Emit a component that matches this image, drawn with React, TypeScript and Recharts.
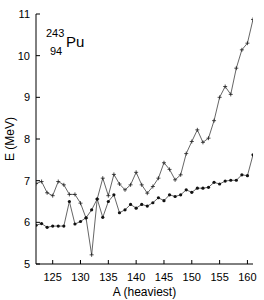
import React from "react";
import { LineChart, Line, XAxis, YAxis } from "recharts";

// mass number of the heaviest fragment
const massNumbers = [
  122, 123, 124, 125, 126, 127, 128, 129, 130, 131,
  132, 133, 134, 135, 136, 137, 138, 139, 140, 141,
  142, 143, 144, 145, 146, 147, 148, 149, 150, 151,
  152, 153, 154, 155, 156, 157, 158, 159, 160, 161,
];

// upper curve (+ markers)
const upperE = [
  6.93, 6.98, 6.71, 6.64, 6.98, 6.9, 6.67, 6.67, 6.46, 6.1,
  5.22, 6.56, 7.06, 6.64, 7.15, 6.92, 6.78, 6.9, 7.2, 6.9,
  6.7, 6.86, 7.06, 7.43, 7.27, 7.02, 7.14, 7.65, 7.94, 8.22,
  7.92, 8.02, 8.44, 9.0, 9.26, 9.07, 9.7, 10.14, 10.3, 10.87,
];

// lower curve (filled dots)
const lowerE = [
  5.93, 5.97, 5.88, 5.91, 5.91, 5.91, 6.5, 5.96, 6.02, 6.11,
  6.3, 6.56, 6.12, 6.5, 6.66, 6.23, 6.3, 6.43, 6.34, 6.43,
  6.39, 6.47, 6.59, 6.52, 6.66, 6.62, 6.66, 6.78, 6.72, 6.82,
  6.82, 6.84, 6.96, 6.92, 6.99, 7.01, 7.01, 7.14, 7.12, 7.62,
];

const xTicks = [125, 130, 135, 140, 145, 150, 155, 160];
const yTicks = [5, 6, 7, 8, 9, 10, 11];

const data = massNumbers.map((a, i) => ({ A: a, upper: upperE[i], lower: lowerE[i] }));

const font = "'Liberation Sans', Arial, sans-serif";

const PlusDot = (props: any) => {
  const { cx, cy, index } = props;
  if (cx == null || cy == null) return <g key={index} />;
  return (
    <path
      key={index}
      d={`M${cx - 2},${cy}h4M${cx},${cy - 2}v4`}
      stroke="#222"
      strokeWidth={0.8}
      fill="none"
    />
  );
};

const RoundDot = (props: any) => {
  const { cx, cy, index } = props;
  if (cx == null || cy == null) return <g key={index} />;
  return <circle key={index} cx={cx} cy={cy} r={1.6} fill="#111" stroke="none" />;
};

export default function App() {
  return (
    <div style={{ position: "absolute", left: 0, top: 0, width: 264, height: 300, fontFamily: font, background: "#fff" }}>
      <LineChart
        width={264}
        height={300}
        data={data}
        margin={{ top: 14, right: 11, left: 0, bottom: 0 }}
      >
        <XAxis
          dataKey="A"
          type="number"
          domain={[122, 161]}
          ticks={xTicks}
          allowDataOverflow
          height={36}
          tickSize={-4}
          tickMargin={13}
          stroke="#000"
          tick={{ fill: "#000", fontSize: 11, fontFamily: font }}
          label={{
            content: (p: any) => {
              const vb = p.viewBox;
              return (
                <text x={vb.x + vb.width / 2} y={296} textAnchor="middle" fontSize={12} fontFamily={font} fill="#000">
                  A (heaviest)
                </text>
              );
            },
          }}
        />
        <XAxis
          xAxisId="top"
          orientation="top"
          type="number"
          domain={[122, 161]}
          ticks={xTicks}
          allowDataOverflow
          height={0}
          tickSize={-4}
          tick={false}
          stroke="#000"
        />
        <YAxis
          type="number"
          domain={[5, 11]}
          ticks={yTicks}
          allowDataOverflow
          width={36}
          tickSize={-4}
          tickMargin={10}
          stroke="#000"
          tick={{ fill: "#000", fontSize: 11, fontFamily: font }}
          label={{
            content: (p: any) => {
              const vb = p.viewBox;
              const cy = vb.y + vb.height / 2;
              return (
                <text
                  x={10}
                  y={cy}
                  transform={`rotate(-90 10 ${cy})`}
                  textAnchor="middle"
                  dominantBaseline="central"
                  fontSize={12}
                  fontFamily={font}
                  fill="#000"
                >
                  E (MeV)
                </text>
              );
            },
          }}
        />
        <YAxis
          yAxisId="right"
          orientation="right"
          type="number"
          domain={[5, 11]}
          ticks={yTicks}
          allowDataOverflow
          width={0}
          tickSize={-4}
          tick={false}
          stroke="#000"
        />
        <Line
          dataKey="upper"
          stroke="#555"
          strokeWidth={0.9}
          dot={PlusDot}
          activeDot={false}
          isAnimationActive={false}
        />
        <Line
          dataKey="lower"
          stroke="#555"
          strokeWidth={0.9}
          dot={RoundDot}
          activeDot={false}
          isAnimationActive={false}
        />
      </LineChart>
      <div style={{ position: "absolute", left: 46, top: 22, fontSize: 15, lineHeight: 1, color: "#000", whiteSpace: "nowrap" }}>
        <span style={{ position: "absolute", left: 0, top: 6, fontSize: 11 }}>243</span>
        <span style={{ position: "absolute", left: 4, top: 24, fontSize: 11 }}>94</span>
        <span style={{ position: "absolute", left: 20, top: 12 }}>Pu</span>
      </div>
    </div>
  );
}
